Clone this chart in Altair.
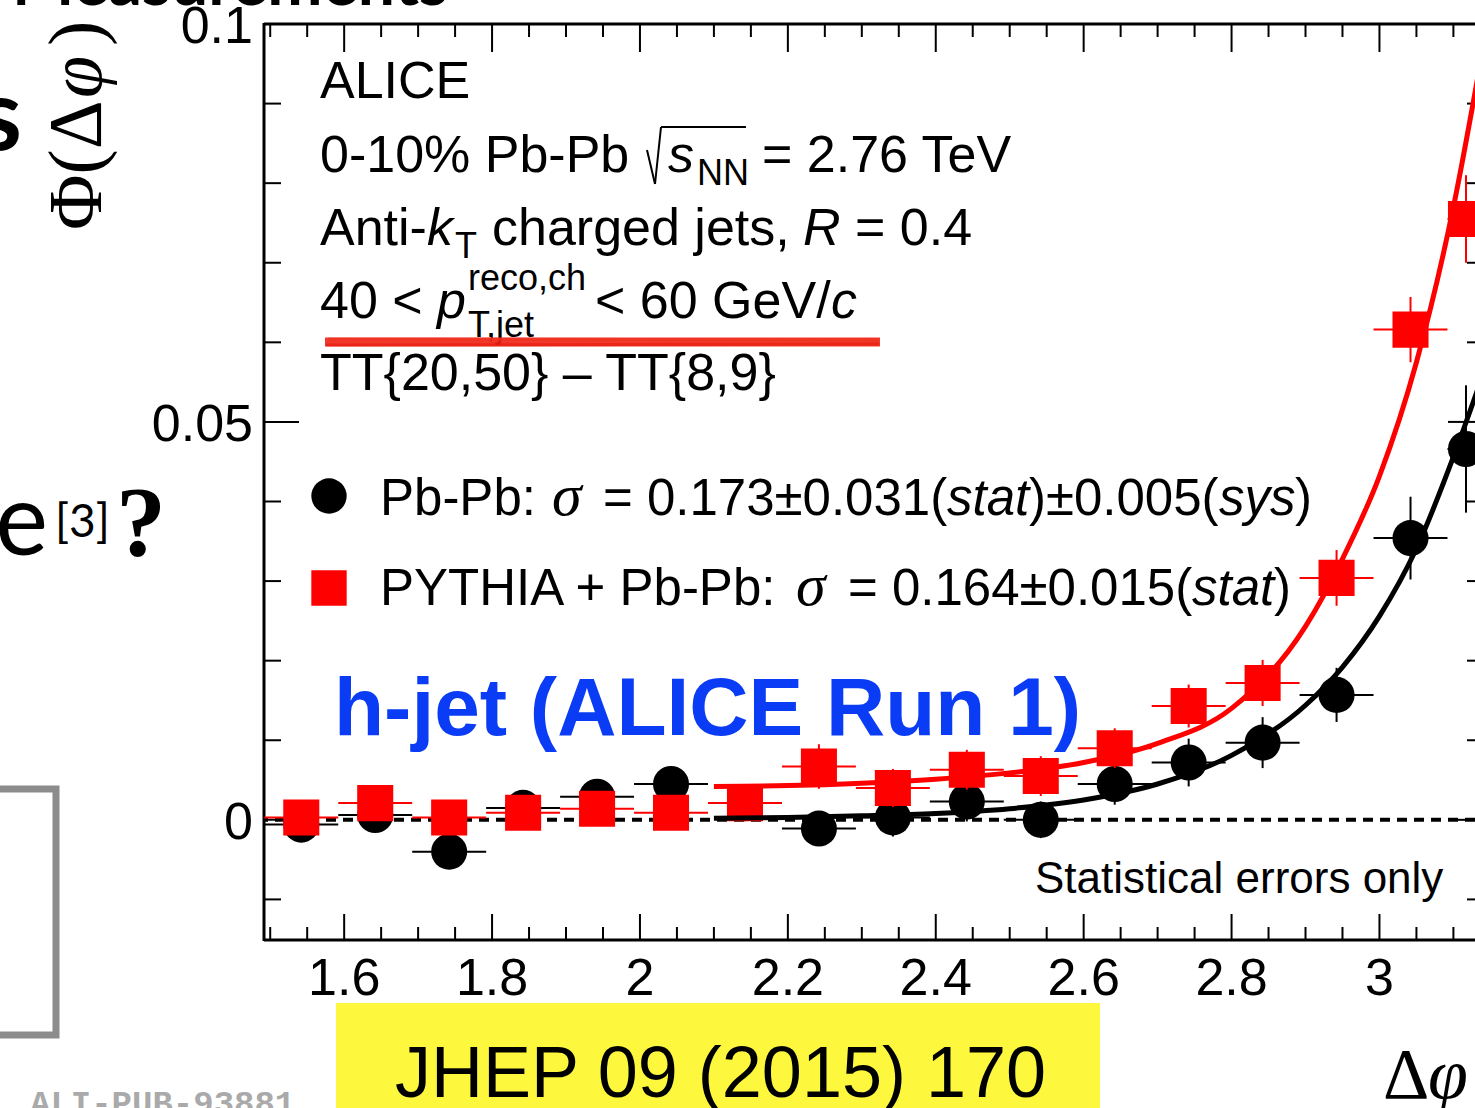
import altair as alt
import pandas as pd

# ---------------------------------------------------------------- data
# bin centres in delta-phi (last bin is half width, ending at pi)
dphi = [1.542, 1.642, 1.742, 1.842, 1.942, 2.042, 2.142, 2.242, 2.342,
        2.442, 2.542, 2.642, 2.742, 2.842, 2.942, 3.042, 3.117]
half_width = [0.05] * 16 + [0.025]

# Pb-Pb (black circles), statistical errors
pbpb = [-0.0006, 0.0006, -0.0040, 0.0015, 0.0029, 0.0045, 0.0021, -0.0011,
        0.0003, 0.0023, 0.0000, 0.0045, 0.0072, 0.0097, 0.0157, 0.0354, 0.0466]
pbpb_err = [0.0012, 0.0013, 0.0014, 0.0015, 0.0016, 0.0018, 0.0019, 0.0021,
            0.0024, 0.0025, 0.0023, 0.0026, 0.0030, 0.0032, 0.0034, 0.0052, 0.0080]

# PYTHIA embedded in Pb-Pb (red squares), statistical errors
pyth = [0.0003, 0.0021, 0.0003, 0.0009, 0.0014, 0.0009, 0.0021, 0.0067,
        0.0040, 0.0063, 0.0055, 0.0090, 0.0143, 0.0172, 0.0304, 0.0616, 0.0755]
pyth_err = [0.0012, 0.0013, 0.0013, 0.0014, 0.0015, 0.0016, 0.0018, 0.0028,
            0.0024, 0.0025, 0.0025, 0.0025, 0.0027, 0.0029, 0.0035, 0.0041, 0.0055]

# fitted curves
fit_x = [2.10, 2.20, 2.30, 2.40, 2.50, 2.60, 2.70, 2.80, 2.90, 2.95, 3.00, 3.05, 3.10, 3.14]
fit_pbpb = [0.0002, 0.0003, 0.0005, 0.0008, 0.0014, 0.0025, 0.0045, 0.0081,
            0.0144, 0.0192, 0.0256, 0.0341, 0.0456, 0.0560]
fit_pyth = [0.0042, 0.0043, 0.0046, 0.0051, 0.0059, 0.0072, 0.0096, 0.0140,
            0.0243, 0.0328, 0.0432, 0.0575, 0.0770, 0.0970]

# axis ticks and their labels
x_major = [1.6, 1.8, 2.0, 2.2, 2.4, 2.6, 2.8, 3.0]
x_labels = ["1.6", "1.8", "2", "2.2", "2.4", "2.6", "2.8", "3"]
x_minor = [1.5, 1.55, 1.65, 1.7, 1.75, 1.85, 1.9, 1.95, 2.05, 2.1, 2.15, 2.25,
           2.3, 2.35, 2.45, 2.5, 2.55, 2.65, 2.7, 2.75, 2.85, 2.9, 2.95, 3.05, 3.1]
y_major = [0.0, 0.05, 0.1]
y_labels = ["0", "0.05", "0.1"]
y_minor = [-0.01, 0.01, 0.02, 0.03, 0.04, 0.06, 0.07, 0.08, 0.09]

# ---------------------------------------------------------------- layout
X0, Y0 = 264, 24          # plot origin inside the page
W, H = 1211, 916          # plot area
SANS = "Liberation Sans"
SERIF = "Liberation Serif"
SLIDE = "Lato"
RED = "#ff0000"
BLUE = "#0a3cf5"

xs = alt.Scale(domain=[1.4916, 3.1292], nice=False, zero=False)
ys = alt.Scale(domain=[-0.0151, 0.1], nice=False, zero=False)


def series_df(y, err):
    df = pd.DataFrame({"x": dphi, "hw": half_width, "y": y, "e": err})
    df["lo"] = df.x - df.hw
    df["hi"] = df.x + df.hw
    df["ylo"] = df.y - df.e
    df["yhi"] = df.y + df.e
    return df


def points(df, color, shape):
    base = alt.Chart(df)
    hbar = base.mark_rule(color=color, strokeWidth=2).encode(
        x=alt.X("lo:Q", scale=xs, axis=None), x2="hi:Q",
        y=alt.Y("y:Q", scale=ys, axis=None))
    vbar = base.mark_rule(color=color, strokeWidth=2).encode(
        x=alt.X("x:Q", scale=xs, axis=None),
        y=alt.Y("ylo:Q", scale=ys, axis=None), y2="yhi:Q")
    mark = base.mark_point(shape=shape, filled=True, size=1300, opacity=1,
                           color=color).encode(
        x=alt.X("x:Q", scale=xs, axis=None),
        y=alt.Y("y:Q", scale=ys, axis=None))
    return [hbar, vbar, mark]


def curve(values, color):
    return alt.Chart(pd.DataFrame({"x": fit_x, "y": values})).mark_line(
        color=color, strokeWidth=5, interpolate="monotone").encode(
        x=alt.X("x:Q", scale=xs, axis=None),
        y=alt.Y("y:Q", scale=ys, axis=None))


def label(text, x, y, size, font=SANS, color="black", style="normal",
          weight="normal", align="left", angle=0):
    props = dict(align=align, baseline="alphabetic", font=font, fontSize=size,
                 color=color, fontStyle=style, fontWeight=weight)
    if angle:
        props["angle"] = angle
    return alt.Chart(pd.DataFrame({"t": [text]})).mark_text(**props).encode(
        x=alt.value(x - X0), y=alt.value(y - Y0), text="t:N")


def seg(x1, y1, x2, y2, color="black", width=2, **kw):
    return alt.Chart(pd.DataFrame({"k": [0]})).mark_rule(
        color=color, strokeWidth=width, **kw).encode(
        x=alt.value(x1 - X0), y=alt.value(y1 - Y0),
        x2=alt.value(x2 - X0), y2=alt.value(y2 - Y0))


def box(x1, y1, x2, y2, **kw):
    return alt.Chart(pd.DataFrame({"k": [0]})).mark_rect(**kw).encode(
        x=alt.value(x1 - X0), y=alt.value(y1 - Y0),
        x2=alt.value(x2 - X0), y2=alt.value(y2 - Y0))


# ---------------------------------------------------------------- frame, ticks, tick labels
zero_line = alt.Chart(pd.DataFrame({"y": [0.0]})).mark_rule(
    color="black", strokeWidth=4, strokeDash=[10, 7]).encode(
    y=alt.Y("y:Q", scale=ys, axis=None))

frame = [
    seg(X0, Y0, X0 + W, Y0, width=3),                 # top
    seg(X0, Y0 + H, X0 + W, Y0 + H, width=3),         # bottom
    seg(X0, Y0 - 1, X0, Y0 + H + 1, width=3),         # left
]

xt_major = alt.Chart(pd.DataFrame({"v": x_major, "t": x_labels}))
xt_minor = alt.Chart(pd.DataFrame({"v": x_minor}))
yt_major = alt.Chart(pd.DataFrame({"v": y_major, "t": y_labels}))
yt_minor = alt.Chart(pd.DataFrame({"v": y_minor}))


def xticks(c, y1, y2):
    return c.mark_rule(color="black", strokeWidth=2).encode(
        x=alt.X("v:Q", scale=xs, axis=None), y=alt.value(y1), y2=alt.value(y2))


def yticks(c, x1, x2):
    return c.mark_rule(color="black", strokeWidth=2).encode(
        y=alt.Y("v:Q", scale=ys, axis=None), x=alt.value(x1), x2=alt.value(x2))


ticks = [
    xticks(xt_major, H, H - 26), xticks(xt_minor, H, H - 13),
    xticks(xt_major, 0, 28), xticks(xt_minor, 0, 13),
    yticks(yt_major, 0, 35), yticks(yt_minor, 0, 17),
    yticks(yt_major, W, W - 27), yticks(yt_minor, W, W - 8),
]

tick_labels = [
    xt_major.mark_text(font=SANS, fontSize=52, color="black", align="center",
                       baseline="alphabetic").encode(
        x=alt.X("v:Q", scale=xs, axis=None), y=alt.value(H + 55), text="t:N"),
    yt_major.mark_text(font=SANS, fontSize=52, color="black", align="right",
                       baseline="middle", dy=3).encode(
        y=alt.Y("v:Q", scale=ys, axis=None), x=alt.value(-11), text="t:N"),
]

# ---------------------------------------------------------------- texts
texts = [
    label("ALICE", 320, 98, 52),
    label("0-10% Pb-Pb", 320, 172, 52),
    seg(647, 150, 655, 184), seg(655, 184, 661, 127), seg(661, 127, 746, 127),
    label("s", 668, 172, 52, style="italic"),
    label("NN", 697, 185, 36),
    label("= 2.76 TeV", 762, 172, 52),
    label("Anti-", 320, 245, 52),
    label("k", 427, 245, 52, style="italic"),
    label("T", 455, 258, 36),
    label("charged jets,", 492, 245, 52),
    label("R", 803, 245, 52, style="italic"),
    label("= 0.4", 855, 245, 52),
    label("40 <", 320, 318, 52),
    label("p", 437, 318, 52, style="italic"),
    label("reco,ch", 468, 290, 36),
    label("T,jet", 468, 337, 36),
    label("< 60 GeV/", 595, 318, 52),
    label("c", 831, 318, 52, style="italic"),
    # hand-drawn red underline
    seg(325, 342, 880, 342, color="#ee2414", width=9, opacity=0.9),
    seg(328, 339, 878, 340, color="#f0301e", width=3, opacity=0.6),
    seg(326, 345, 879, 344, color="#e81a0c", width=3, opacity=0.6),
    label("TT{20,50} \u2013 TT{8,9}", 320, 390, 52),
    # legend
    label("Pb-Pb:", 380, 515, 51),
    label("\u03c3", 552, 515, 60, font=SERIF, style="italic"),
    label("= 0.173\u00b10.031(", 603, 515, 51),
    label("stat", 947, 515, 51, style="italic"),
    label(")\u00b10.005(", 1029, 515, 51),
    label("sys", 1219, 515, 51, style="italic"),
    label(")", 1295, 515, 51),
    label("PYTHIA + Pb-Pb:", 380, 605, 51),
    label("\u03c3", 796, 605, 60, font=SERIF, style="italic"),
    label("= 0.164\u00b10.015(", 848, 605, 51),
    label("stat", 1192, 605, 51, style="italic"),
    label(")", 1274, 605, 51),
    label("h-jet (ALICE Run 1)", 334, 735, 82, color=BLUE, weight="bold"),
    label("Statistical errors only", 1035, 893, 44),
    # y axis title
    label("\u03a6(\u0394", 101, 230, 76, font=SERIF, angle=270),
    label("\u03c6", 101, 98, 76, font=SERIF, style="italic", angle=270),
    label(")", 101, 46, 76, font=SERIF, angle=270),
    # x axis title
    label("\u0394", 1383, 1098, 72, font=SERIF),
    label("\u03c6", 1428, 1098, 72, font=SERIF, style="italic"),
]

legend_marks = [
    alt.Chart(pd.DataFrame({"k": [0]})).mark_point(
        shape="circle", filled=True, size=1250, opacity=1, color="black").encode(
        x=alt.value(329 - X0), y=alt.value(496 - Y0)),
    alt.Chart(pd.DataFrame({"k": [0]})).mark_point(
        shape="square", filled=True, size=1250, opacity=1, color=RED).encode(
        x=alt.value(329 - X0), y=alt.value(588 - Y0)),
]

# surrounding slide content
slide = [
    label("Measurements", 12, 5, 66, font=SLIDE, weight="bold"),
    label("s", 22, 150, 100, font=SLIDE, weight="bold", align="right"),
    label("e", 48, 555, 100, font=SLIDE, align="right"),
    label("[3]", 55, 537, 46, font=SLIDE),
    label("?", 116, 555, 100, font=SERIF, weight="bold"),
    box(-60, 789, 56, 1035, fillOpacity=0, stroke="#8c8c8c", strokeWidth=7),
    label("ALI-PUB-93881", 30, 1114, 34, font="Liberation Mono",
          weight="bold", color="#aaaaaa"),
    box(336, 1003, 1100, 1120, color="#fdf83e"),
    label("JHEP 09 (2015) 170", 395, 1097, 72),
]

layers = (
    [zero_line] + frame + ticks + tick_labels
    + points(series_df(pbpb, pbpb_err), "black", "circle")
    + points(series_df(pyth, pyth_err), RED, "square")
    + [curve(fit_pyth, RED), curve(fit_pbpb, "black")]
    + legend_marks + texts + slide
)

chart = alt.layer(*layers).properties(
    width=W, height=H,
    autosize=alt.AutoSizeParams(type="none"),
    padding={"left": X0, "top": Y0, "right": 0, "bottom": 1108 - Y0 - H},
    background="white",
).configure_view(stroke="transparent")

chart.save("out.html", embed_options={"renderer": "svg", "actions": False})
